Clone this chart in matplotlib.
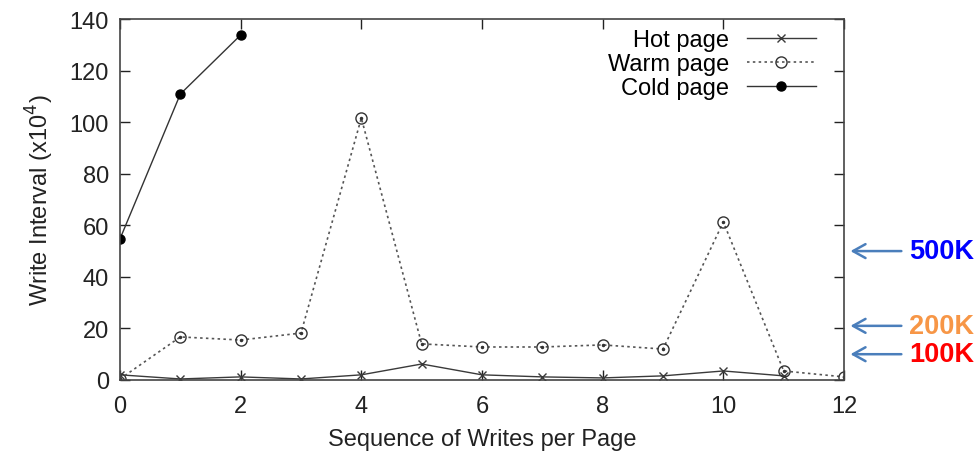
import matplotlib
matplotlib.use("Agg")
import matplotlib.pyplot as plt

plt.rcParams['font.family'] = ['Liberation Sans', 'DejaVu Sans']

hot_x = [0, 1, 2, 3, 4, 5, 6, 7, 8, 9, 10, 11]
hot_y = [2.0, 0.4, 1.2, 0.4, 2.0, 6.2, 2.0, 1.2, 0.8, 1.6, 3.5, 1.6]
warm_x = [0, 1, 2, 3, 4, 5, 6, 7, 8, 9, 10, 11, 12]
warm_y = [0.4, 16.7, 15.5, 18.2, 101.6, 14.0, 12.8, 12.8, 13.6, 12.0, 61.3, 3.5, 1.2]
cold_x = [0, 1, 2]
cold_y = [54.7, 110.9, 133.8]

marks = [50, 21, 10]
mark_labels = ['500K', '200K', '100K']
mark_colors = ['#0000FF', '#F79646', '#FF0000']

fig = plt.figure(figsize=(9.77, 4.56), dpi=100)
ax = fig.add_axes([0.1228, 0.1645, 0.7411, 0.7915])

l1, = ax.plot(hot_x, hot_y, color='#3a3a3a', lw=1.0, marker='x', ms=6, mew=1.0, label='Hot page')
l2, = ax.plot(warm_x, warm_y, color='#555555', lw=1.2, ls=(0, (1.5, 2)), marker='o', ms=8,
              mfc='none', mec='#333333', mew=1.0, label='Warm page')
ax.plot(warm_x, warm_y, ls='none', marker='o', ms=1.5, color='#333333')
l3, = ax.plot(cold_x, cold_y, color='#333333', lw=1.0, marker='o', ms=6.5, mfc='black', mec='black',
              label='Cold page')

ax.set_xlim(0, 12)
ax.set_ylim(0, 140)
ax.set_xticks(range(0, 13, 2))
ax.set_yticks(range(0, 141, 20))
ax.tick_params(direction='in', top=True, right=True, length=7, width=1, labelsize=17,
               colors='#222222', pad=8)
ax.tick_params(axis='x', pad=11)
for s in ax.spines.values():
    s.set_color('#444444')
    s.set_linewidth(1.2)
ax.set_xlabel('Sequence of Writes per Page', fontsize=17, color='#222222', labelpad=8)
ax.set_ylabel('Write Interval (x10$^4$)', fontsize=17, color='#222222', labelpad=10)

leg = ax.legend([l1, l2, l3], ['Hot page', 'Warm page', 'Cold page'],
                loc='upper right', frameon=False, markerfirst=False, fontsize=17,
                handlelength=2.9, labelspacing=0.08, borderaxespad=0.1, handletextpad=0.75,
                bbox_to_anchor=(0.977, 1.005))

for v, lab, c in zip(marks, mark_labels, mark_colors):
    ax.annotate('', xy=(1.005, v), xycoords=('axes fraction', 'data'),
                xytext=(1.083, v), textcoords=('axes fraction', 'data'),
                arrowprops=dict(arrowstyle='->,head_length=0.9,head_width=0.5', color='#4A7EBB', lw=1.8),
                annotation_clip=False)
    ax.text(1.09, v, lab, transform=ax.get_yaxis_transform(), color=c, fontsize=19.5,
            fontweight='bold', va='center', ha='left', clip_on=False)

fig.savefig('out.png', dpi=100)
